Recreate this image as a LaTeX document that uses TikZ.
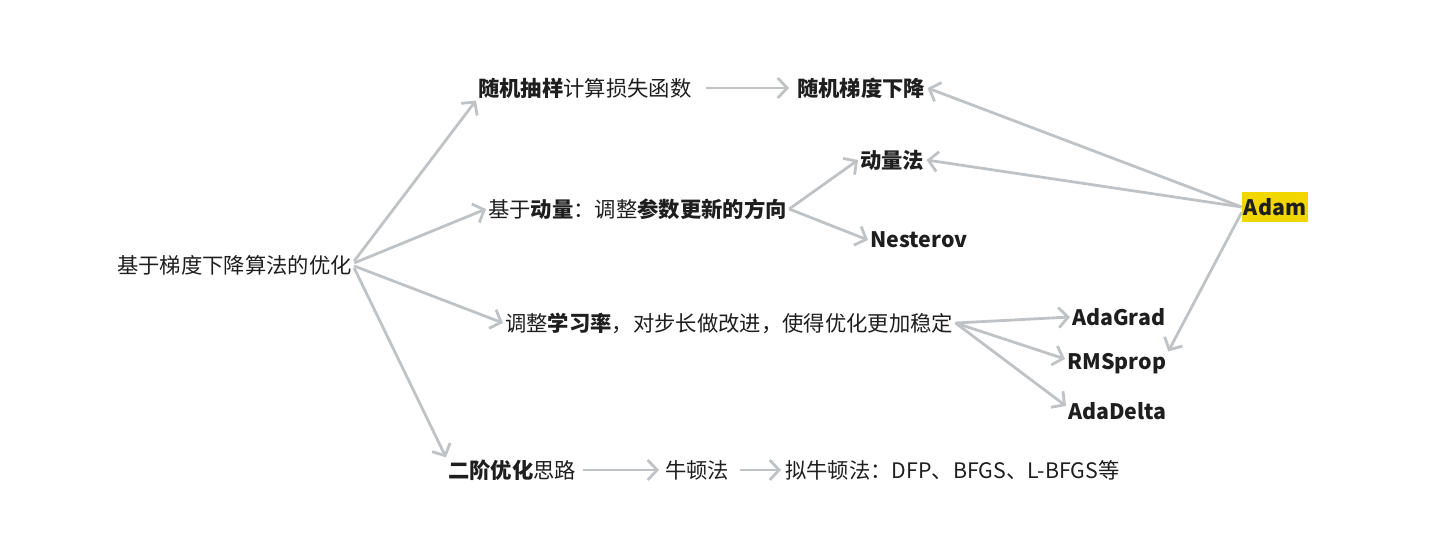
\documentclass[tikz,border=0pt]{standalone}
\usepackage{fontspec}
\setmainfont{Noto Sans CJK SC}
\usetikzlibrary{arrows.meta}
\definecolor{arr}{HTML}{C0C3C6}
\definecolor{txt}{HTML}{1E1E1E}
\definecolor{hl}{HTML}{F2D600}
\begin{document}
\begin{tikzpicture}[x=0.75pt,y=-0.75pt,
  lbl/.style={anchor=west,inner sep=1.5pt,text=txt,font=\fontsize{16pt}{19pt}\selectfont},
  con/.style={draw=arr,line width=2.1pt,-{Straight Barb[length=7pt,width=15pt]}}]
\useasboundingbox (0,0) rectangle (1440,544);
\node[lbl] (root) at (115,265) {基于梯度下降算法的优化};
\node[lbl] (n1) at (476,88) {\textbf{随机抽样}计算损失函数};
\node[lbl] (sgd) at (795,88) {\textbf{随机梯度下降}};
\node[lbl] (n2) at (486,209) {基于\textbf{动量}：调整\textbf{参数更新的方向}};
\node[lbl] (mom) at (858,160) {\textbf{动量法}};
\node[lbl] (nest) at (868,240) {\textbf{Nesterov}};
\node[lbl] (n3) at (503,323) {调整\textbf{学习率}，对步长做改进，使得优化更加稳定};
\node[lbl] (adagrad) at (1070,317) {\textbf{AdaGrad}};
\node[lbl] (rms) at (1065,364) {\textbf{RMSprop}};
\node[lbl] (adadelta) at (1066,411) {\textbf{AdaDelta}};
\node[lbl,fill=hl,inner xsep=1.5pt,inner ysep=5pt,anchor=center] (adam) at (1275,207) {\textbf{Adam}};
\node[lbl] (n4) at (446,470) {\textbf{二阶优化}思路};
\node[lbl] (newton) at (663,470) {牛顿法};
\node[lbl] (quasi) at (783,470) {拟牛顿法：DFP、BFGS、L-BFGS等};
% connectors
\draw[con] ([yshift=3pt]root.east) -- (n1.south west);
\draw[con] ([yshift=1.5pt]root.east) -- (n2.west);
\draw[con] ([yshift=-0.75pt]root.east) -- (n3.west);
\draw[con] ([yshift=-2.25pt]root.east) -- (n4.north west);
\draw[con,shorten <=9pt,shorten >=4.5pt] (n1.east) -- (sgd.west);
\draw[con] (n2.east) -- (mom.west);
\draw[con] (n2.east) -- (nest.west);
\draw[con] (adam.west) -- (sgd.east);
\draw[con] (adam.west) -- (mom.east);
\draw[con] ([yshift=-4pt]adam.west) -- (rms.north east);
\draw[con] (n3.east) -- (adagrad.west);
\draw[con] (n3.east) -- ([yshift=3.75pt]rms.west);
\draw[con] (n3.east) -- ([yshift=3.75pt]adadelta.west);
\draw[con,shorten <=3pt,shorten >=3pt] (n4.east) -- (newton.west);
\draw[con,shorten <=6pt,shorten >=1.5pt] (newton.east) -- (quasi.west);
\end{tikzpicture}
\end{document}
